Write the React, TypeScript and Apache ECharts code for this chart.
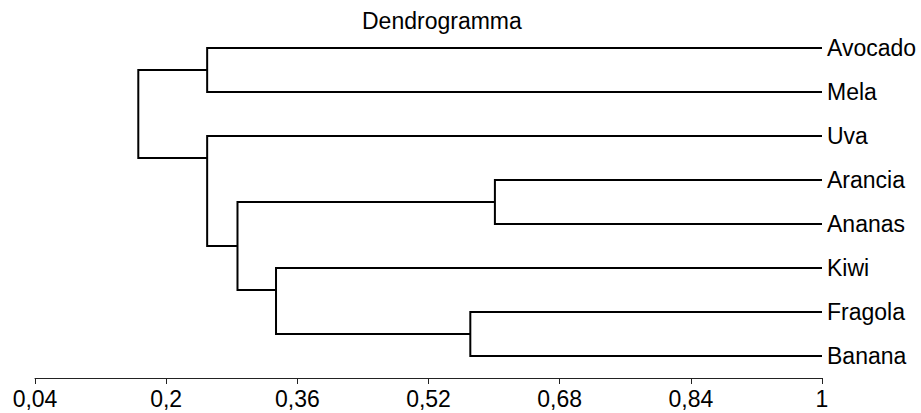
import React, { useEffect, useRef } from "react";
import * as echarts from "echarts";

const leaves = ["Avocado", "Mela", "Uva", "Arancia", "Ananas", "Kiwi", "Fragola", "Banana"];
const leafHeight = 1;

const mergeNames = ["N1", "N2", "N3", "N4", "N5", "N6", "N7"];
const mergeChildA = ["Avocado", "Arancia", "Fragola", "Kiwi", "N2", "Uva", "N1"];
const mergeChildB = ["Mela", "Ananas", "Banana", "N3", "N4", "N5", "N6"];
const mergeHeights = [0.25, 0.601, 0.571, 0.334, 0.287, 0.25, 0.166];
const mergePos = [0.5, 3.5, 6.5, 5.5, 4.5, 2.5, 1.5];

const xTicks = [0.04, 0.2, 0.36, 0.52, 0.68, 0.84, 1];
const titleText = "Dendrogramma";

const FONT = "'Liberation Sans', Arial, Helvetica, sans-serif";

function nodePoint(name: string): [number, number] {
  const li = leaves.indexOf(name);
  if (li >= 0) return [leafHeight, li];
  const mi = mergeNames.indexOf(name);
  return [mergeHeights[mi], mergePos[mi]];
}

export default function App() {
  const ref = useRef<HTMLDivElement>(null);
  useEffect(() => {
    if (!ref.current) return;
    const chart = echarts.init(ref.current, undefined, { renderer: "svg" });
    const linesData = mergeNames.map((_, i) => {
      const a = nodePoint(mergeChildA[i]);
      const b = nodePoint(mergeChildB[i]);
      const h = mergeHeights[i];
      return {
        coords: [
          [a[0], a[1]],
          [h, a[1]],
          [h, b[1]],
          [b[0], b[1]],
        ],
      };
    });
    chart.setOption({
      animation: false,
      backgroundColor: "#ffffff",
      title: {
        text: titleText,
        left: 362,
        top: 9,
        padding: 0,
        textStyle: { fontFamily: FONT, fontSize: 23, fontWeight: "normal", color: "#000" },
      },
      grid: { left: 35, right: 99, top: 48, bottom: 35, containLabel: false },
      xAxis: {
        type: "value",
        position: "bottom",
        min: 0.04,
        max: 1,
        axisLine: { show: true, onZero: false, lineStyle: { color: "#222", width: 1 } },
        axisTick: { show: true, length: 6, customValues: xTicks, lineStyle: { color: "#222" } },
        axisLabel: {
          customValues: xTicks,
          margin: 9,
          fontFamily: FONT,
          fontSize: 23,
          color: "#000",
          formatter: (v: number) => String(Math.round(v * 100) / 100).replace(".", ","),
        },
        splitLine: { show: false },
      },
      yAxis: {
        type: "value",
        inverse: true,
        min: 0,
        max: 7.5,
        interval: 1,
        position: "right",
        axisLine: { show: false },
        axisTick: { show: false },
        splitLine: { show: false },
        axisLabel: {
          margin: 5,
          fontFamily: FONT,
          fontSize: 23,
          color: "#000",
          verticalAlign: "middle",
          padding: [0, 0, 4, 0],
          formatter: (v: number) => (Number.isInteger(v) && leaves[v] ? leaves[v] : ""),
        },
      },
      series: [
        {
          type: "lines",
          coordinateSystem: "cartesian2d",
          polyline: true,
          silent: true,
          lineStyle: { color: "#000", width: 2, opacity: 1 },
          data: linesData,
        },
      ],
    });
    return () => chart.dispose();
  }, []);
  return (
    <div
      ref={ref}
      style={{ position: "absolute", left: 0, top: 0, width: 921, height: 413, background: "#fff" }}
    />
  );
}
